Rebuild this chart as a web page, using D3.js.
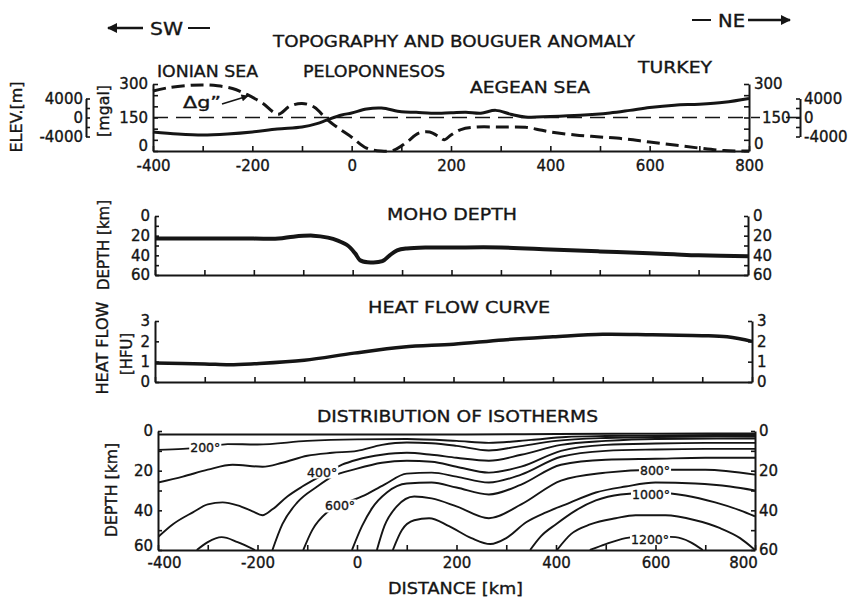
<!DOCTYPE html>
<html><head><meta charset="utf-8">
<script src="https://cdn.jsdelivr.net/npm/d3@7"></script>
<style>
body{margin:0;background:#fff}
svg{display:block}
text{font-family:"DejaVu Sans",sans-serif;fill:#151515;stroke:#151515;stroke-width:0.35px}
</style>
</head><body>
<svg id="c" width="853" height="597"></svg>
<script>
// ---------- DATA ----------
const distTicks = [-400, -200, 0, 200, 400, 600, 800];
// Panel 1: topography (elevation, m) and Bouguer anomaly (mgal)
const topoDist = [-400,-350,-300,-250,-200,-150,-100,-70,-50,-20,0,30,60,100,130,160,200,230,260,290,320,350,400,460,520,560,600,650,700,750,800];
const topoElev = [-3050,-3470,-3680,-3470,-3050,-2420,-2000,-1300,-530,530,950,1800,2000,1200,1100,900,1000,1100,900,1500,700,100,200,450,950,1500,2100,2600,2800,3200,4000];
const gravDist = [-400,-370,-330,-300,-270,-240,-210,-180,-148,-125,-100,-75,-50,-25,0,30,60,85,110,135,157,177,187,200,220,250,300,350,380,400,450,500,550,600,650,700,750,800];
const gravAnom = [269,283,293,296,292,280,252,215,165,200,213,196,142,100,62,13,0,4,38,80,85,62,50,72,96,107,107,106,94,85,72,63,54,40,27,13,2,0];
const gravRef = 150;
const gravTicks = [0, 150, 300];
const elevTicks = [-4000, 0, 4000];
// Panel 2: Moho depth (km)
const mohoDist = [-400,-300,-200,-150,-120,-80,-50,-30,-10,5,15,30,60,75,90,110,150,200,300,400,500,600,650,700,800];
const mohoDepth = [23,23,23,23,21,20,22,25,30,38,45,47,46,40,35,33,32,32,32,34,36,38,39,40,41];
const mohoTicks = [0, 20, 40, 60];
// Panel 3: heat flow (HFU)
const heatDist = [-400,-300,-250,-200,-100,0,100,200,300,400,500,600,700,750,800];
const heatFlow = [0.94,0.89,0.85,0.9,1.07,1.42,1.72,1.86,2.07,2.22,2.35,2.32,2.28,2.22,2.0];
const heatTicks = [0, 1, 2, 3];
// Panel 4: isotherms, [distance km, depth km] per temperature (one or more segments)
const iso100 = [[[-400,1.8],[-200,1.8],[0,1.8],[200,1.8],[400,1.5],[600,1.3],[800,1.2]]];
const iso200 = [[[-400,9.5],[-350,9],[-300,8],[-260,6.6],[-200,6.8],[-100,5],[0,4.2],[100,4],[200,5],[265,6],[350,4.5],[420,3],[500,2.5],[600,2.2],[800,2]]];
const iso300 = [[[-400,26],[-350,23],[-300,19.5],[-250,17],[-190,18],[-150,16],[-100,12.5],[-50,11],[0,10],[50,7],[100,5.8],[150,6.2],[200,7.5],[265,9.8],[320,8],[400,5],[500,3.5],[600,3],[800,2.8]]];
const iso400 = [[[-400,53.5],[-370,47],[-330,41],[-300,37],[-270,36],[-240,37.5],[-210,40.5],[-190,42.5],[-170,39.5],[-140,33],[-110,28],[-60,21],[-30,17],[0,14.5],[50,12],[100,11],[150,12],[200,13.5],[265,15],[330,12],[410,7],[500,5],[600,4],[800,3.8]]];
const iso500 = [[[-322,60],[-300,56],[-272,53.5],[-240,56],[-205,60]],
                [[-170,60],[-150,47],[-120,36],[-80,28],[-50,23],[0,19],[50,16],[100,15],[150,15.5],[200,18],[265,21],[330,18],[410,10],[500,7],[600,6.3],[700,6],[800,6]]];
const iso600 = [[[-108,60],[-90,50],[-60,41],[-30,37],[10,33],[55,27],[100,21.5],[150,21],[200,23],[265,26],[330,22],[410,13],[500,10],[600,9.3],[700,9],[800,9]]];
const iso700 = [[[-10,60],[10,48],[30,39],[60,31],[100,26.5],[150,26],[200,28.5],[265,32],[330,27],[410,17],[500,14.5],[600,14],[700,13.5],[800,13.5]]];
const iso800 = [[[40,60],[55,48],[80,38],[115,33],[150,34],[200,38],[265,44],[330,37],[410,25],[500,21],[600,19.5],[700,19.5],[800,22]]];
const iso900 = [[[72,60],[90,50],[115,45],[145,44],[185,48],[230,54],[268,57],[300,54],[340,46],[380,41],[420,37],[480,31],[540,28],[600,26],[680,26.5],[750,28],[800,30]]];
const iso1000 = [[[348,60],[370,53],[400,47],[440,40],[480,35],[530,32],[600,31],[660,32.5],[720,36],[770,40],[800,43]]];
const iso1100 = [[[402,60],[430,52],[470,47],[520,44],[560,42.5],[620,42.5],[680,45],[730,49],[770,54],[800,60]]];
const iso1200 = [[[468,60],[500,57],[540,54],[580,53],[640,53.5],[670,56],[695,60]]];
const isotherms = [iso100, iso200, iso300, iso400, iso500, iso600, iso700, iso800, iso900, iso1000, iso1100, iso1200];
const isoLabelText = ["200°", "400°", "600°", "800°", "1000°", "1200°"];
const isoLabelDist = [-305, -70, -34, 599, 591, 589];
const isoLabelDepth = [8.1, 20.7, 37.8, 19.7, 31.8, 54.5];
const isoDepthTicks = [0, 20, 40, 60];

// ---------- DRAWING ----------
const ink = "#151515";
const FONT = "DejaVu Sans, sans-serif";
const svg = d3.select("#c");
svg.append("rect").attr("width", 853).attr("height", 597).attr("fill", "#fff");

const defs = svg.append("defs");
defs.append("clipPath").attr("id", "isoClip")
  .append("rect").attr("x", 158).attr("y", 429).attr("width", 597).attr("height", 121);
defs.append("marker").attr("id", "ah").attr("viewBox", "0 0 10 10").attr("refX", 9).attr("refY", 5)
  .attr("markerWidth", 5).attr("markerHeight", 4).attr("orient", "auto-start-reverse")
  .append("path").attr("d", "M0,0 L10,5 L0,10 z").attr("fill", ink);

function styleAxis(g, fs) {
  g.attr("font-family", FONT).attr("font-size", fs || 15);
  g.select(".domain").attr("stroke", ink).attr("stroke-width", 2);
  g.selectAll(".tick line").attr("stroke", ink).attr("stroke-width", 1.6);
  g.selectAll(".tick text").attr("fill", ink);
  return g;
}
function label(txt, x, y, len, fs, anchor) {
  const t = svg.append("text").attr("x", x).attr("y", y).attr("font-size", fs || 15)
    .attr("text-anchor", anchor || "start").text(txt);
  if (len) t.attr("textLength", len).attr("lengthAdjust", "spacingAndGlyphs");
  return t;
}
function vlabel(txt, cx, cy, len, fs) {
  const t = svg.append("text").attr("transform", `translate(${cx},${cy}) rotate(-90)`)
    .attr("text-anchor", "middle").attr("dy", "0.36em").attr("font-size", fs || 15).text(txt);
  if (len) t.attr("textLength", len).attr("lengthAdjust", "spacingAndGlyphs");
  return t;
}
const xFmt = d => distTicks.includes(d) ? d : "";
const allDistTicks = d3.range(-400, 801, 100);

// ---- direction arrows ----
svg.append("line").attr("x1", 143).attr("y1", 28).attr("x2", 108).attr("y2", 28)
  .attr("stroke", ink).attr("stroke-width", 2.5).attr("marker-end", "url(#ah)");
svg.append("line").attr("x1", 188).attr("y1", 28).attr("x2", 210).attr("y2", 28).attr("stroke", ink).attr("stroke-width", 2);
label("SW", 150, 35, 33, 17);
svg.append("line").attr("x1", 692).attr("y1", 20).attr("x2", 711).attr("y2", 20).attr("stroke", ink).attr("stroke-width", 2);
label("NE", 718, 27, 27, 17);
svg.append("line").attr("x1", 748).attr("y1", 20).attr("x2", 790).attr("y2", 20)
  .attr("stroke", ink).attr("stroke-width", 2.5).attr("marker-end", "url(#ah)");

// ---- Panel 1 ----
const x1 = d3.scaleLinear([-400, 800], [153, 749]);
const y1 = d3.scaleLinear([0, 300], [151, 84]);
const e1 = d3.scaleLinear([-4000, 4000], [y1(gravRef) + 19, y1(gravRef) - 19]);

label("TOPOGRAPHY AND BOUGUER ANOMALY", 273, 47, 362, 16);
label("IONIAN SEA", 157, 77, 101, 16);
label("PELOPONNESOS", 303, 77, 142, 16);
label("AEGEAN SEA", 470, 93, 120, 16);
label("TURKEY", 638, 73, 74, 16);

svg.append("line").attr("x1", 153).attr("x2", 760).attr("y1", y1(gravRef)).attr("y2", y1(gravRef))
  .attr("stroke", ink).attr("stroke-width", 1.6).attr("stroke-dasharray", "15,8");
svg.append("line").attr("x1", 786).attr("x2", 800).attr("y1", y1(gravRef)).attr("y2", y1(gravRef))
  .attr("stroke", ink).attr("stroke-width", 1.6);

styleAxis(svg.append("g").attr("transform", `translate(0,${y1(0)})`)
  .call(d3.axisBottom(x1).tickValues(allDistTicks).tickSize(-5).tickSizeOuter(0).tickPadding(9).tickFormat(xFmt)));
const l1 = styleAxis(svg.append("g").attr("transform", "translate(153,0)")
  .call(d3.axisLeft(y1).tickValues(d3.range(0, 301, 50)).tickSize(-5).tickSizeOuter(0).tickPadding(5)
    .tickFormat(d => gravTicks.includes(d) ? d : "")));
l1.selectAll(".tick text").filter(d => d === 0).attr("y", -5);
const r1 = styleAxis(svg.append("g").attr("transform", "translate(749,0)")
  .call(d3.axisRight(y1).tickValues(d3.range(0, 301, 50)).tickSize(-5).tickSizeOuter(0).tickPadding(5)
    .tickFormat(d => gravTicks.includes(d) ? d : "")));
r1.selectAll(".tick text").filter(d => d === 150).attr("x", 13);
r1.selectAll(".tick text").filter(d => d === 0).attr("y", -7);
styleAxis(svg.append("g").attr("transform", "translate(86,0)")
  .call(d3.axisLeft(e1).tickValues([-4000, -2000, 0, 2000, 4000]).tickSize(-4).tickSizeOuter(0).tickPadding(3)
    .tickFormat(d => elevTicks.includes(d) ? d : "")));
styleAxis(svg.append("g").attr("transform", "translate(800,0)")
  .call(d3.axisRight(e1).tickValues([-4000, -2000, 0, 2000, 4000]).tickSize(-4).tickSizeOuter(0).tickPadding(4)
    .tickFormat(d => elevTicks.includes(d) ? d : "")));
vlabel("ELEV.[m]", 17, 117, 71, 15);
vlabel("[mgal]", 104, 111, 52, 15);

const lineTopo = d3.line().x(d => x1(d[0])).y(d => e1(d[1])).curve(d3.curveCatmullRom.alpha(0.5));
svg.append("path").attr("d", lineTopo(d3.zip(topoDist, topoElev)))
  .attr("fill", "none").attr("stroke", ink).attr("stroke-width", 3);
const lineGrav = d3.line().x(d => x1(d[0])).y(d => y1(d[1])).curve(d3.curveCatmullRom.alpha(0.5));
svg.append("path").attr("d", lineGrav(d3.zip(gravDist, gravAnom)))
  .attr("fill", "none").attr("stroke", ink).attr("stroke-width", 3).attr("stroke-dasharray", "13,6");
label("\u0394g\u201D", 183, 108, 38, 16);
svg.append("line").attr("x1", 222).attr("y1", 104).attr("x2", 248).attr("y2", 96)
  .attr("stroke", ink).attr("stroke-width", 1.8).attr("marker-end", "url(#ah)");

// ---- Panel 2: Moho ----
const x2 = d3.scaleLinear([-400, 800], [155, 748]);
const y2 = d3.scaleLinear([0, 60], [216, 275]);
label("MOHO DEPTH", 387, 220, 130, 16);
styleAxis(svg.append("g").attr("transform", `translate(0,${y2(60)})`)
  .call(d3.axisBottom(x2).tickValues(allDistTicks).tickSize(-5).tickSizeOuter(0).tickFormat("")));
styleAxis(svg.append("g").attr("transform", "translate(155,0)")
  .call(d3.axisLeft(y2).tickValues(d3.range(0, 61, 10)).tickSize(-4).tickSizeOuter(0).tickPadding(5)
    .tickFormat(d => mohoTicks.includes(d) ? d : "")));
styleAxis(svg.append("g").attr("transform", "translate(748,0)")
  .call(d3.axisRight(y2).tickValues(d3.range(0, 61, 10)).tickSize(-4).tickSizeOuter(0).tickPadding(5)
    .tickFormat(d => mohoTicks.includes(d) ? d : "")));
vlabel("DEPTH [km]", 104, 245, 90, 15);
const lineMoho = d3.line().x(d => x2(d[0])).y(d => y2(d[1])).curve(d3.curveCatmullRom.alpha(0.5));
svg.append("path").attr("d", lineMoho(d3.zip(mohoDist, mohoDepth)))
  .attr("fill", "none").attr("stroke", ink).attr("stroke-width", 4);

// ---- Panel 3: heat flow ----
const x3 = d3.scaleLinear([-400, 800], [155, 752]);
const y3 = d3.scaleLinear([0, 3], [382, 321]);
label("HEAT FLOW CURVE", 368, 313, 182, 16);
styleAxis(svg.append("g").attr("transform", `translate(0,${y3(0)})`)
  .call(d3.axisBottom(x3).tickValues(allDistTicks).tickSize(-5).tickSizeOuter(0).tickFormat("")));
styleAxis(svg.append("g").attr("transform", "translate(155,0)")
  .call(d3.axisLeft(y3).tickValues(heatTicks).tickSize(-4).tickSizeOuter(0).tickPadding(5).tickFormat(d3.format("d"))));
styleAxis(svg.append("g").attr("transform", "translate(752,0)")
  .call(d3.axisRight(y3).tickValues(heatTicks).tickSize(-4).tickSizeOuter(0).tickPadding(5).tickFormat(d3.format("d"))));
vlabel("HEAT FLOW", 103, 348, 93, 15);
vlabel("[HFU]", 127, 354, 42, 15);
const lineHeat = d3.line().x(d => x3(d[0])).y(d => y3(d[1])).curve(d3.curveCatmullRom.alpha(0.5));
svg.append("path").attr("d", lineHeat(d3.zip(heatDist, heatFlow)))
  .attr("fill", "none").attr("stroke", ink).attr("stroke-width", 3.5);

// ---- Panel 4: isotherms ----
const x4 = d3.scaleLinear([-400, 800], [158, 755]);
const y4 = d3.scaleLinear([0, 60], [431, 550]);
label("DISTRIBUTION OF ISOTHERMS", 317, 422, 281, 16);
label("DISTANCE [km]", 388, 594, 135, 16);
vlabel("DEPTH [km]", 112, 490, 94, 15);
const gIso = svg.append("g").attr("clip-path", "url(#isoClip)");
const lineIso = d3.line().x(d => x4(d[0])).y(d => y4(d[1])).curve(d3.curveMonotoneX);
isotherms.forEach(segs => segs.forEach(seg => {
  gIso.append("path").attr("d", lineIso(seg)).attr("fill", "none").attr("stroke", ink).attr("stroke-width", 1.9);
}));
isoLabelText.forEach((t, i) => {
  const tx = svg.append("text").attr("x", x4(isoLabelDist[i])).attr("y", y4(isoLabelDepth[i]))
    .attr("dy", "0.36em").attr("text-anchor", "middle").attr("font-size", 12.5).text(t);
  const bb = tx.node().getBBox();
  svg.insert("rect", () => tx.node()).attr("x", bb.x - 1).attr("y", bb.y + 1)
    .attr("width", bb.width + 2).attr("height", bb.height - 2).attr("fill", "#fff").attr("stroke", "none");
});
const bx4 = styleAxis(svg.append("g").attr("transform", `translate(0,${y4(60)})`)
  .call(d3.axisBottom(x4).tickValues(allDistTicks).tickSize(-5).tickSizeOuter(0).tickPadding(7).tickFormat(xFmt)));
bx4.selectAll(".tick text").filter(d => d === 800).attr("x", -12);
bx4.selectAll(".tick text").filter(d => d === -400).attr("x", 6);
const l4 = styleAxis(svg.append("g").attr("transform", "translate(158,0)")
  .call(d3.axisLeft(y4).tickValues(d3.range(0, 61, 10)).tickSize(-4).tickSizeOuter(0).tickPadding(5)
    .tickFormat(d => isoDepthTicks.includes(d) ? d : "")));
l4.selectAll(".tick text").filter(d => d === 60).attr("y", -4);
const r4 = styleAxis(svg.append("g").attr("transform", "translate(755,0)")
  .call(d3.axisRight(y4).tickValues(d3.range(0, 61, 10)).tickSize(-4).tickSizeOuter(0).tickPadding(4)
    .tickFormat(d => isoDepthTicks.includes(d) ? d : "")));
</script>
</body></html>
